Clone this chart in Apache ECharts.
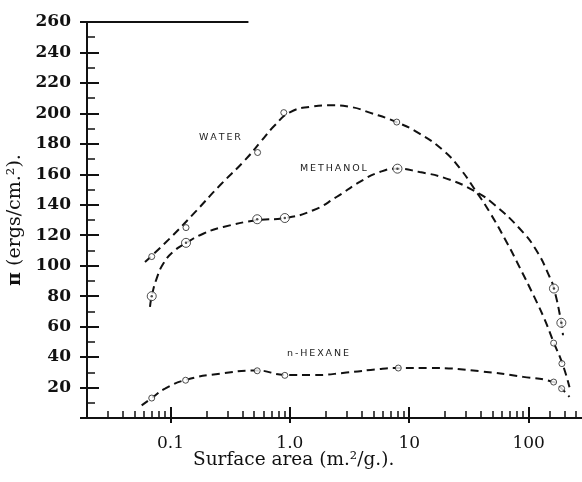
<!DOCTYPE html>
<html>
<head>
<meta charset="utf-8">
<script src="https://cdn.jsdelivr.net/npm/echarts@6/dist/echarts.min.js"></script>
<style>
  html, body { margin: 0; padding: 0; background: #fff; }
  #chart { width: 582px; height: 482px; }
</style>
</head>
<body>
<div id="chart"></div>
<script>
// Spreading pressure against specific surface area (log scale).
// Smooth dashed curves traced through each set of measurements.
const waterCurve = [
  [0.0612, 102.4], [0.099, 118], [0.16, 135], [0.26, 152.8], [0.42, 169.2],
  [0.583, 182.3], [0.749, 192.2], [1.0, 200.7], [1.47, 204.3], [2.16, 205.3],
  [3.18, 204.3], [4.67, 200.5], [7.86, 194.2], [12.2, 186.7], [19.2, 175.8],
  [26.5, 164], [35.3, 150.2], [47.2, 135.1], [65.5, 115.4], [84.1, 98.9],
  [112.3, 79], [136, 64.8], [162, 49.7], [191.5, 35.9], [220, 20.2]
];
const methanolCurve = [
  [0.0674, 73], [0.0697, 80], [0.0766, 91.5], [0.0872, 101.4], [0.105, 109],
  [0.135, 114.9], [0.188, 121], [0.277, 125.4], [0.526, 129.8], [0.908, 131.3],
  [1.57, 136.4], [2.46, 145.1], [3.85, 155], [5.67, 161.5], [7.97, 163.7],
  [12.2, 161.5], [20.5, 157.2], [35.3, 149], [50.3, 140.8], [84, 124.4],
  [116, 110.1], [150, 92.6], [163, 85], [188, 62.6], [194, 54.3]
];
const hexaneCurve = [
  [0.0574, 8.3], [0.0697, 13.1], [0.09, 19.3], [0.137, 25.2], [0.26, 29.1],
  [0.533, 31.2], [0.908, 28.3], [1.57, 28.2], [2.98, 29.8], [5.67, 32.2],
  [8.1, 32.8], [14.9, 32.8], [39, 30.7], [90, 27], [162, 23.6],
  [189, 19.3], [220, 13.8]
];

// Measured points
const waterPoints = [[0.0697, 106], [0.135, 125], [0.537, 174.3], [0.89, 200.5], [7.86, 194.3], [162, 49.2], [190, 35.7]];
const methanolPoints = [[0.0697, 80], [0.135, 115], [0.533, 130.5], [0.908, 131.3], [7.97, 163.7], [163, 85], [188, 62.5]];
const hexanePoints = [[0.0697, 13.1], [0.134, 24.8], [0.533, 31], [0.908, 28], [8.1, 32.8], [162, 23.6], [189, 19.3]];

// Axis ticks
const xMajorTicks = [0.1, 1, 10, 100];
const xMinorTicks = [
  0.03, 0.04, 0.05, 0.06, 0.07, 0.08, 0.09,
  0.2, 0.3, 0.4, 0.5, 0.6, 0.7, 0.8, 0.9,
  2, 3, 4, 5, 6, 7, 8, 9,
  20, 30, 40, 50, 60, 70, 80, 90,
  150, 200, 250
];
const xTickText = ['0.1', '1.0', '10', '100'];
const xMin = 0.02, xMax = 280;
const yMin = 0, yMax = 260, yStep = 20;

const INK = '#111';
const serif = 'DejaVu Serif';

const chart = echarts.init(document.getElementById('chart'), null, { renderer: 'canvas' });

const baseX = {
  type: 'log', logBase: 10, min: xMin, max: xMax, position: 'bottom',
  gridIndex: 0, splitLine: { show: false }, minorTick: { show: false },
  axisLine: { show: false }, axisLabel: { show: false }
};
const baseY = {
  type: 'value', min: yMin, max: yMax, interval: yStep, position: 'left',
  gridIndex: 0, splitLine: { show: false }, axisLine: { show: false },
  axisLabel: { show: false }
};

const dashed = { color: INK, width: 2, type: [8, 5] };

function curve(name, data, extra) {
  return Object.assign({
    name, type: 'line', data, smooth: 0.5,
    showSymbol: false, symbol: 'none',
    lineStyle: dashed, z: 2, silent: true, xAxisIndex: 0, yAxisIndex: 0
  }, extra || {});
}
function marks(name, data, size, fill, border) {
  return {
    name, type: 'scatter', data, symbol: 'circle', symbolSize: size,
    itemStyle: { color: fill, borderColor: border, borderWidth: border ? 1 : 0 },
    z: 3, silent: true, xAxisIndex: 0, yAxisIndex: 0
  };
}

const option = {
  animation: false,
  backgroundColor: '#fff',
  grid: { left: 87, right: 0, top: 22, bottom: 64, containLabel: false, outerBoundsMode: 'none' },
  xAxis: [
    Object.assign({}, baseX, {
      axisLine: { show: true, lineStyle: { color: INK, width: 2 } },
      axisTick: { show: true, inside: true, length: 7, lineStyle: { color: INK, width: 1.5 }, customValues: xMinorTicks },
      axisLabel: {
        show: true, margin: 17, customValues: xMajorTicks,
        fontFamily: serif, fontSize: 17, color: INK,
        formatter: function (v) {
          const i = xMajorTicks.findIndex(t => Math.abs(t - v) / t < 1e-6);
          return i >= 0 ? xTickText[i] : '';
        }
      }
    }),
    Object.assign({}, baseX, {
      axisTick: { show: true, inside: true, length: 11, lineStyle: { color: INK, width: 2 }, customValues: xMajorTicks }
    }),
    Object.assign({}, baseX, {
      axisTick: { show: true, inside: false, length: 5, lineStyle: { color: INK, width: 2 }, customValues: xMajorTicks }
    })
  ],
  yAxis: [
    Object.assign({}, baseY, {
      name: '{p|π} (ergs/cm.²).',
      nameLocation: 'middle', nameGap: 47, nameRotate: 90,
      nameTextStyle: {
        fontFamily: serif, fontSize: 19, color: INK,
        rich: { p: { fontFamily: serif, fontSize: 19, fontWeight: 'bold', color: INK } }
      },
      axisLine: { show: true, lineStyle: { color: INK, width: 2 } },
      axisTick: { show: true, inside: true, length: 12, lineStyle: { color: INK, width: 2 } },
      minorTick: { show: true, splitNumber: 2, length: 8, lineStyle: { color: INK, width: 1.5 } },
      axisLabel: {
        show: true, margin: 16, fontFamily: serif, fontSize: 17, fontWeight: 'bold', color: INK,
        formatter: v => (v === 0 ? '' : String(v))
      }
    }),
    Object.assign({}, baseY, {
      axisTick: { show: true, inside: false, length: 7, lineStyle: { color: INK, width: 2 } }
    })
  ],
  graphic: [
    { type: 'text', left: 193, top: 451, silent: true,
      style: { text: 'Surface area (m.²/g.).', font: '18.5px "DejaVu Serif"', fill: INK } },
    { type: 'text', left: 199, top: 133, silent: true,
      style: { text: 'W\u2009A\u2009T\u2009E\u2009R', font: '9.5px "DejaVu Sans"', fill: '#222' } },
    { type: 'text', left: 300, top: 164, silent: true,
      style: { text: 'M\u2009E\u2009T\u2009H\u2009A\u2009N\u2009O\u2009L', font: '9.5px "DejaVu Sans"', fill: '#222' } },
    { type: 'text', left: 287, top: 349, silent: true,
      style: { text: 'n\u2009-\u2009H\u2009E\u2009X\u2009A\u2009N\u2009E', font: '9.5px "DejaVu Sans"', fill: '#222' } }
  ],
  series: [
    curve('Water', waterCurve, {
      markLine: {
        silent: true, symbol: 'none', label: { show: false },
        lineStyle: { color: INK, width: 2, type: 'solid' },
        data: [[{ coord: [xMin, yMax] }, { coord: [0.45, yMax] }]]
      }
    }),
    curve('Methanol', methanolCurve),
    curve('n-Hexane', hexaneCurve),
    marks('Water points', waterPoints, 6, '#fff', '#222'),
    marks('Hexane points', hexanePoints, 6, '#fff', '#222'),
    marks('Methanol points', methanolPoints, 9, '#fff', '#222'),
    marks('Methanol centres', methanolPoints, 2.5, '#222', null)
  ]
};

chart.setOption(option);
</script>
</body>
</html>
